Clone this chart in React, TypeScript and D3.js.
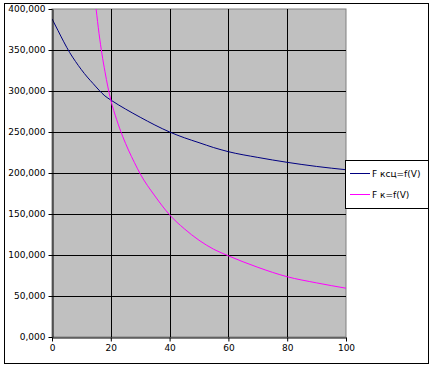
import React, { useEffect, useRef } from 'react';
import * as d3 from 'd3';

// V values and forces
const vKsc = [0, 2, 4, 6, 8, 10, 12, 14, 16, 18, 20, 25, 30, 35, 40, 45, 50, 55, 60, 70, 80, 90, 100];
const fKsc = [388000, 374000, 360000, 347000, 336000, 326000, 317000, 309000, 301000, 294000, 289000, 278000, 268000, 258500, 250000, 243000, 237000, 231000, 226000, 219000, 213000, 208000, 204000];

const vK = [14, 15, 16, 17, 18, 19, 20, 22, 24, 26, 28, 30, 35, 40, 45, 50, 55, 60, 70, 80, 90, 100];
const fK = [430000, 400000, 370000, 345000, 324000, 305000, 289000, 265000, 245000, 228000, 213000, 199000, 172000, 149000, 132000, 118000, 107000, 99000, 85000, 73500, 66000, 59500];

const xTicks = [0, 20, 40, 60, 80, 100];
const yTicks = [0, 50000, 100000, 150000, 200000, 250000, 300000, 350000, 400000];

const seriesNames = ['F ксц=f(V)', 'F к=f(V)'];
const seriesColors = ['#000080', '#ff00ff'];

const W = 433, H = 367;

const App = () => {
	const ref = useRef<SVGSVGElement>(null);

	useEffect(() => {
		const svg = d3.select(ref.current);
		svg.selectAll('*').remove();

		const left = 52, right = 346, top = 9, bottom = 337;
		const x = d3.scaleLinear().domain([0, 100]).range([left, right]);
		const y = d3.scaleLinear().domain([0, 400000]).range([bottom, top]);
		const font = 'DejaVu Sans, sans-serif';

		// outer frame
		svg.append('rect')
			.attr('x', 4.5).attr('y', 3.5)
			.attr('width', 424).attr('height', 360)
			.attr('fill', 'white').attr('stroke', 'black');

		// plot area
		svg.append('rect')
			.attr('x', left).attr('y', top)
			.attr('width', right - left).attr('height', bottom - top)
			.attr('fill', '#c0c0c0').attr('stroke', '#808080');

		// grid
		svg.append('g').selectAll('line')
			.data(yTicks.filter(d => d > 0 && d < 400000))
			.enter().append('line')
			.attr('x1', left).attr('x2', right)
			.attr('y1', d => Math.round(y(d)) + 0.5).attr('y2', d => Math.round(y(d)) + 0.5)
			.attr('stroke', 'black');
		svg.append('g').selectAll('line')
			.data(xTicks.filter(d => d > 0 && d < 100))
			.enter().append('line')
			.attr('y1', top).attr('y2', bottom)
			.attr('x1', d => Math.round(x(d)) + 0.5).attr('x2', d => Math.round(x(d)) + 0.5)
			.attr('stroke', 'black');

		// clip for the curves
		svg.append('clipPath').attr('id', 'plotclip')
			.append('rect')
			.attr('x', left).attr('y', top)
			.attr('width', right - left).attr('height', bottom - top);

		const line = d3.line<[number, number]>()
			.x(d => x(d[0]))
			.y(d => y(d[1]))
			.curve(d3.curveMonotoneX);

		const series = [
			vKsc.map((v, i) => [v, fKsc[i]] as [number, number]),
			vK.map((v, i) => [v, fK[i]] as [number, number]),
		];

		series.forEach((s, i) => {
			svg.append('path')
				.datum(s)
				.attr('clip-path', 'url(#plotclip)')
				.attr('fill', 'none')
				.attr('stroke', seriesColors[i])
				.attr('stroke-width', 1)
				.attr('d', line);
		});

		// y axis, labels like 350,000 / 0,000
		const yAxis = svg.append('g')
			.attr('transform', `translate(${left + 0.5},0)`)
			.call(d3.axisLeft(y).tickValues(yTicks).tickSize(4).tickSizeOuter(0)
				.tickFormat(d => (+d / 1000) + ',000'));
		yAxis.selectAll('text')
			.attr('font-family', font).attr('font-size', 9).attr('fill', 'black').attr('x', -7);
		yAxis.select('.domain').attr('stroke', 'black');

		// x axis
		const xAxis = svg.append('g')
			.attr('transform', `translate(0,${bottom + 0.5})`)
			.call(d3.axisBottom(x).tickValues(xTicks).tickSize(4).tickSizeOuter(0));
		xAxis.selectAll('text')
			.attr('font-family', font).attr('font-size', 9).attr('fill', 'black').attr('y', 7);
		xAxis.select('.domain').attr('stroke', 'black');

		// legend
		const lg = svg.append('g');
		lg.append('rect')
			.attr('x', 345.5).attr('y', 160.5)
			.attr('width', 83).attr('height', 48)
			.attr('fill', 'white').attr('stroke', 'black');
		seriesNames.forEach((name, i) => {
			const ly = 173.5 + i * 21;
			lg.append('line')
				.attr('x1', 350).attr('x2', 370)
				.attr('y1', ly).attr('y2', ly)
				.attr('stroke', seriesColors[i]);
			lg.append('text')
				.attr('x', 372).attr('y', ly + 3.5)
				.attr('font-family', font).attr('font-size', 9)
				.text(name);
		});
	}, []);

	return (
		<svg ref={ref} width={W} height={H}
			style={{ position: 'absolute', left: 0, top: 0, background: 'white' }} />
	);
};

export default App;
